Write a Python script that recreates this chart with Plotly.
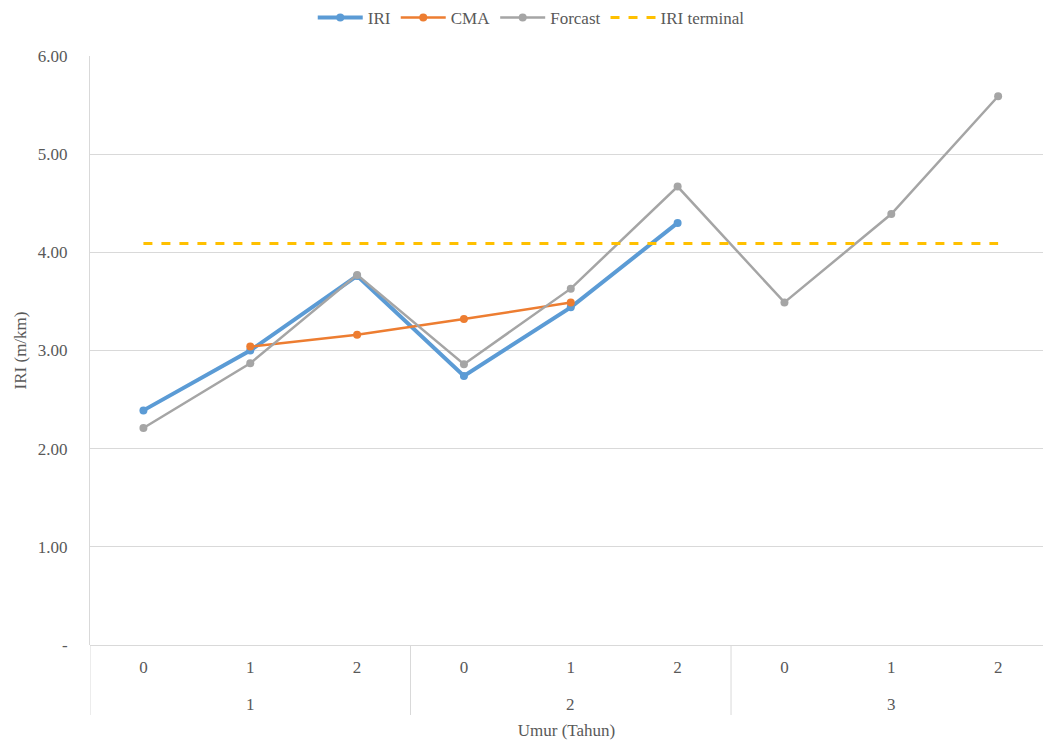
import plotly.graph_objects as go

groups = ["1", "1", "1", "2", "2", "2", "3", "3", "3"]
sub = ["0", "1", "2", "0", "1", "2", "0", "1", "2"]
group_names = ["1", "2", "3"]

iri = [2.39, 3.00, 3.76, 2.74, 3.44, 4.30, None, None, None]
cma = [None, 3.04, 3.16, 3.32, 3.49, None, None, None, None]
forcast = [2.21, 2.87, 3.77, 2.86, 3.63, 4.67, 3.49, 4.39, 5.59]
iri_terminal = [4.09] * 9

y_tickvals = [0, 1, 2, 3, 4, 5, 6]
y_ticktext = ["-", "1.00", "2.00", "3.00", "4.00", "5.00", "6.00"]

cats = [f"{g}|{s}" for g, s in zip(groups, sub)]
font_color = "#595959"
serif = "Liberation Serif"
grid = "#D9D9D9"

fig = go.Figure()
fig.add_trace(go.Scatter(x=cats, y=iri, name="IRI", mode="lines+markers",
                         line=dict(color="#5B9BD5", width=4),
                         marker=dict(size=8, color="#5B9BD5")))
fig.add_trace(go.Scatter(x=cats, y=cma, name="CMA", mode="lines+markers",
                         line=dict(color="#ED7D31", width=2.5),
                         marker=dict(size=8, color="#ED7D31")))
fig.add_trace(go.Scatter(x=cats, y=forcast, name="Forcast", mode="lines+markers",
                         line=dict(color="#A5A5A5", width=2.5),
                         marker=dict(size=8, color="#A5A5A5")))
fig.add_trace(go.Scatter(x=cats, y=iri_terminal, name="IRI terminal", mode="lines",
                         line=dict(color="#FFC000", width=3, dash="dash")))

# group labels and dividers of the two-level category axis
n = len(cats)
shapes = []
annotations = []
for gname in group_names:
    idx = [i for i, g in enumerate(groups) if g == gname]
    mid = cats[idx[len(idx) // 2]]
    annotations.append(dict(x=mid, xref="x", y=0, yref="paper", yanchor="middle",
                            yshift=-59, text=gname, showarrow=False,
                            font=dict(family=serif, size=17, color=font_color)))
for i in range(n):
    if i == 0 or groups[i] != groups[i - 1]:
        shapes.append(dict(type="line", xref="x", x0=i - 0.5, x1=i - 0.5,
                           yref="paper", ysizemode="pixel", yanchor=0, y0=0, y1=-70,
                           line=dict(color=grid, width=1)))

fig.update_layout(
    width=1043, height=742,
    margin=dict(l=90, r=0, t=56, b=97),
    paper_bgcolor="white", plot_bgcolor="white",
    font=dict(family=serif, size=17, color=font_color),
    showlegend=True,
    legend=dict(orientation="h", x=0.463, xanchor="center", y=1.0, yanchor="top",
                yref="container", font=dict(family=serif, size=17, color=font_color),
                itemwidth=45, tracegroupgap=0),
    xaxis=dict(type="category", categoryorder="array", categoryarray=cats,
               range=[-0.5, 8.42], tickvals=cats, ticktext=sub,
               showgrid=False, showline=False, zeroline=False,
               ticklabelstandoff=10,
               tickfont=dict(family=serif, size=17, color=font_color),
               title=dict(text="Umur (Tahun)", font=dict(family=serif, size=17, color=font_color),
                          standoff=48)),
    yaxis=dict(range=[0, 6], tickvals=y_tickvals, ticktext=y_ticktext,
               showgrid=True, gridcolor=grid, gridwidth=1,
               zeroline=True, zerolinecolor=grid, zerolinewidth=1,
               showline=True, linecolor=grid, linewidth=1,
               ticklabelstandoff=18,
               tickfont=dict(family=serif, size=17, color=font_color),
               title=dict(text="IRI (m/km)", font=dict(family=serif, size=17, color=font_color),
                          standoff=6)),
    shapes=shapes,
    annotations=annotations,
)

fig.write_html("out.html")
